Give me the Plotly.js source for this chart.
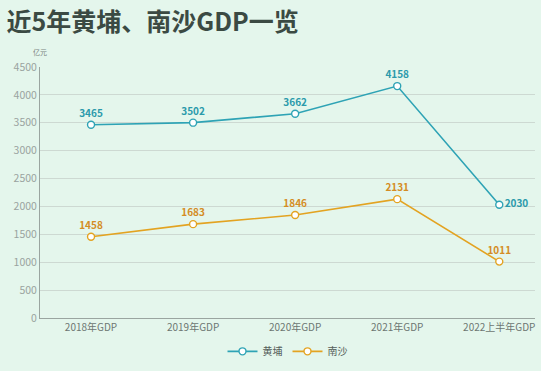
<!DOCTYPE html>
<html><head><meta charset="utf-8">
<script src="https://cdn.plot.ly/plotly-3.0.1.min.js"></script>
<style>html,body{margin:0;padding:0;background:#e6f6ec;}#c{width:541px;height:371px;}</style>
</head><body><div id="c"></div>
<script>
const categories = ['2018年GDP','2019年GDP','2020年GDP','2021年GDP','2022上半年GDP'];
const huangpu = [3465, 3502, 3662, 4158, 2030];
const nansha = [1458, 1683, 1846, 2131, 1011];
const yTicks = [0,500,1000,1500,2000,2500,3000,3500,4000,4500];

const F = '"Noto Sans CJK SC", "Noto Sans", sans-serif';
const teal = '#2ea3b5', orange = '#e3a321';

const traces = [
 {x: categories, y: huangpu, name: '黄埔', type: 'scatter', mode: 'lines+markers+text',
  text: huangpu.map(v => '<b>' + v + '</b>'), textposition: ['top center','top center','top center','top center','middle right'],
  textfont: {family: F, size: 10, color: '#2b9aab'},
  line: {color: teal, width: 1.6},
  marker: {symbol: 'circle', size: 7, color: '#ffffff', line: {color: teal, width: 1.4}},
  cliponaxis: false},
 {x: categories, y: nansha, name: '南沙', type: 'scatter', mode: 'lines+markers+text',
  text: nansha.map(v => '<b>' + v + '</b>'), textposition: 'top center',
  textfont: {family: F, size: 10, color: '#d48c24'},
  line: {color: orange, width: 1.6},
  marker: {symbol: 'circle', size: 7, color: '#ffffff', line: {color: orange, width: 1.4}},
  cliponaxis: false}
];

const layout = {
 width: 541, height: 371,
 margin: {l: 40, r: 6, t: 67, b: 53, autoexpand: false},
 paper_bgcolor: '#e4f6ec', plot_bgcolor: '#e4f6ec',
 font: {family: F},
 title: {text: '<b>近5年黄埔、南沙GDP一览</b>', x: 0.012, xanchor: 'left', y: 0.94, yanchor: 'middle',
  font: {family: F, size: 25, color: '#3b4a43'}},
 xaxis: {type: 'category', range: [-0.5, 4.35], showgrid: false, zeroline: false,
  showline: true, linecolor: '#9aa5a0', linewidth: 1,
  tickfont: {family: F, size: 10, color: '#6d7672'}, ticks: '', fixedrange: true},
 yaxis: {range: [0, 4500], tickvals: yTicks, showgrid: true, gridcolor: '#cdd9d2', gridwidth: 1,
  zeroline: false, showline: true, linecolor: '#9aa5a0', linewidth: 1,
  tickfont: {family: F, size: 10.5, color: '#9aa39f'}, ticks: '', fixedrange: true},
 showlegend: true,
 legend: {orientation: 'h', x: 0.5, xanchor: 'center', y: -0.075, yanchor: 'top',
  font: {family: F, size: 10, color: '#555e5a'}, bgcolor: 'rgba(0,0,0,0)'},
 annotations: [{text: '亿元', xref: 'paper', yref: 'paper', x: 0.0, y: 1.0, yshift: 8, xanchor: 'center', yanchor: 'bottom',
  showarrow: false, font: {family: F, size: 7, color: '#7a8480'}}]
};
Plotly.newPlot('c', traces, layout, {displayModeBar: false, staticPlot: true});
</script></body></html>
